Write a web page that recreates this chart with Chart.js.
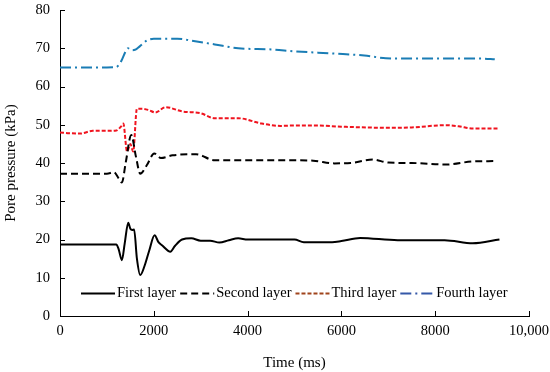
<!DOCTYPE html>
<html>
<head>
<meta charset="utf-8">
<script src="https://cdn.jsdelivr.net/npm/chart.js@4"></script>
<style>
  html, body { margin: 0; padding: 0; background: #fff; }
  #wrap { width: 550px; height: 372px; }
</style>
</head>
<body>
<div id="wrap"><canvas id="poreChart"></canvas></div>
<script>
// Time (ms) and pore pressure (kPa)
const firstTime = [0, 1200, 1250, 1320, 1380, 1455, 1500, 1540, 1580, 1640, 1711, 1800, 1900, 2017, 2100, 2175, 2353, 2450, 2602, 2800, 3000, 3200, 3400, 3600, 3800, 4000, 4600, 5000, 5200, 5800, 6000, 6400, 7200, 8200, 8800, 9370];
const firstLayer = [18.7, 18.7, 17.5, 14.6, 19, 24.4, 22.8, 22.5, 22.6, 15, 10.7, 13, 17, 21.1, 19.3, 18.5, 16.8, 18.3, 20, 20.3, 19.7, 19.7, 19.2, 19.8, 20.3, 20, 20, 20, 19.3, 19.3, 19.6, 20.4, 19.8, 19.8, 19.0, 20];

const secondTime = [0, 1000, 1150, 1250, 1320, 1400, 1520, 1620, 1711, 1850, 2010, 2150, 2400, 2900, 3300, 4000, 5000, 5400, 5850, 6200, 6670, 7000, 7500, 8235, 8800, 9300];
const secondLayer = [37.2, 37.2, 37.6, 36, 34.9, 40, 47.3, 41.6, 37.2, 39.4, 42.5, 41.3, 42, 42.3, 40.7, 40.7, 40.7, 40.6, 39.9, 40, 40.9, 40.1, 40.0, 39.6, 40.4, 40.5];

const thirdTime = [0, 200, 430, 700, 1000, 1200, 1300, 1350, 1430, 1500, 1560, 1640, 1750, 1900, 2030, 2250, 2600, 3000, 3300, 3800, 4300, 4700, 5000, 5500, 6000, 7000, 7500, 8235, 8500, 8800, 9370];
const thirdLayer = [48, 47.8, 47.7, 48.4, 48.4, 48.5, 49.5, 50.3, 43, 45, 43, 54.2, 54.2, 53.8, 53.2, 54.6, 53.5, 53, 51.7, 51.7, 50.3, 49.7, 49.8, 49.8, 49.5, 49.2, 49.3, 49.9, 49.6, 49.0, 49.0];

const fourthTime = [0, 1000, 1200, 1300, 1400, 1450, 1520, 1600, 1700, 1850, 2000, 2500, 2800, 3300, 3800, 4500, 5000, 5880, 6490, 6950, 7500, 8500, 9000, 9270];
const fourthLayer = [65, 65, 65.1, 66.5, 69.2, 70, 69.5, 69.6, 70.5, 72, 72.5, 72.5, 72, 71, 70, 69.7, 69.2, 68.6, 68.1, 67.4, 67.3, 67.3, 67.3, 67.1];

const layerNames = ["First layer", "Second layer", "Third layer", "Fourth layer"];
const xTicks = [0, 2000, 4000, 6000, 8000, 10000];

const toPoints = (xs, ys) => xs.map((x, i) => ({ x: x, y: ys[i] }));

const FONT = "'Liberation Serif', 'Times New Roman', serif";

// inward tick marks + legend drawn inside the plot area
const decorPlugin = {
    id: "decor",
    afterDraw(chart) {
        const ctx = chart.ctx;
        const xs = chart.scales.x;
        const ys = chart.scales.y;
        const area = chart.chartArea;
        ctx.save();
        ctx.strokeStyle = "#000";
        ctx.lineWidth = 1;
        ctx.beginPath();
        xTicks.forEach(v => {
            const px = Math.round(xs.getPixelForValue(v)) + 0.5;
            ctx.moveTo(px, area.bottom);
            ctx.lineTo(px, area.bottom - 5);
        });
        for (let v = 0; v <= 80; v += 10) {
            const py = Math.round(ys.getPixelForValue(v)) + 0.5;
            ctx.moveTo(area.left, py);
            ctx.lineTo(area.left + 5, py);
        }
        ctx.stroke();

        // legend
        const ly = Math.round(ys.getPixelForValue(6.0)) + 0.5;
        let lx = 81;
        ctx.font = "14.5px " + FONT;
        ctx.textBaseline = "middle";
        ctx.fillStyle = "#000";
        chart.data.datasets.forEach(ds => {
            ctx.strokeStyle = ds.legendColor || ds.borderColor;
            ctx.lineWidth = 2;
            ctx.setLineDash(ds.borderDash || []);
            ctx.beginPath();
            ctx.moveTo(lx, ly);
            ctx.lineTo(lx + 34, ly);
            ctx.stroke();
            ctx.setLineDash([]);
            lx += 36;
            ctx.fillText(ds.label, lx, ly);
            lx += ctx.measureText(ds.label).width + 4;
        });
        ctx.restore();
    }
};

new Chart(document.getElementById("poreChart"), {
    type: "line",
    data: {
        datasets: [
            {
                label: layerNames[0],
                data: toPoints(firstTime, firstLayer),
                borderColor: "#000000",
                borderWidth: 2
            },
            {
                label: layerNames[1],
                data: toPoints(secondTime, secondLayer),
                borderColor: "#000000",
                borderWidth: 2,
                borderDash: [7, 4]
            },
            {
                label: layerNames[2],
                data: toPoints(thirdTime, thirdLayer),
                borderColor: "#f0131e",
                legendColor: "#a0441c",
                borderWidth: 2,
                borderDash: [4, 2]
            },
            {
                label: layerNames[3],
                data: toPoints(fourthTime, fourthLayer),
                borderColor: "#1a7db5",
                legendColor: "#3558a8",
                borderWidth: 2,
                borderDash: [11, 4, 2, 4]
            }
        ]
    },
    options: {
        responsive: true,
        maintainAspectRatio: false,
        animation: false,
        layout: {
            padding: { top: 10, right: 21, left: 0, bottom: 0 }
        },
        elements: {
            point: { radius: 0 },
            line: { cubicInterpolationMode: "monotone", fill: false }
        },
        plugins: {
            legend: { display: false },
            tooltip: { enabled: false }
        },
        scales: {
            x: {
                type: "linear",
                min: 0,
                max: 10000,
                afterBuildTicks: axis => { axis.ticks = xTicks.map(v => ({ value: v })); },
                afterFit: axis => {
                    axis.height = 56;
                    axis.paddingLeft = 0;
                    axis.paddingRight = 0;
                },
                ticks: {
                    color: "#000",
                    font: { family: FONT, size: 14.5 },
                    padding: 6,
                    maxRotation: 0,
                    callback: v => v === 10000 ? "10,000" : String(v)
                },
                grid: { display: false, drawTicks: false },
                border: { display: true, color: "#000", width: 1 },
                title: {
                    display: true,
                    text: "Time (ms)",
                    color: "#000",
                    font: { family: FONT, size: 15 },
                    padding: { top: 6, bottom: 0 }
                }
            },
            y: {
                min: 0,
                max: 80,
                afterFit: axis => {
                    axis.width = 60;
                    axis.paddingTop = 0;
                    axis.paddingBottom = 0;
                },
                ticks: {
                    stepSize: 10,
                    color: "#000",
                    font: { family: FONT, size: 14.5 },
                    padding: 10
                },
                grid: { display: false, drawTicks: false },
                border: { display: true, color: "#000", width: 1 },
                title: {
                    display: true,
                    text: "Pore pressure (kPa)",
                    color: "#000",
                    font: { family: FONT, size: 15 },
                    padding: { top: 2, bottom: 2 }
                }
            }
        }
    },
    plugins: [decorPlugin]
});
</script>
</body>
</html>
